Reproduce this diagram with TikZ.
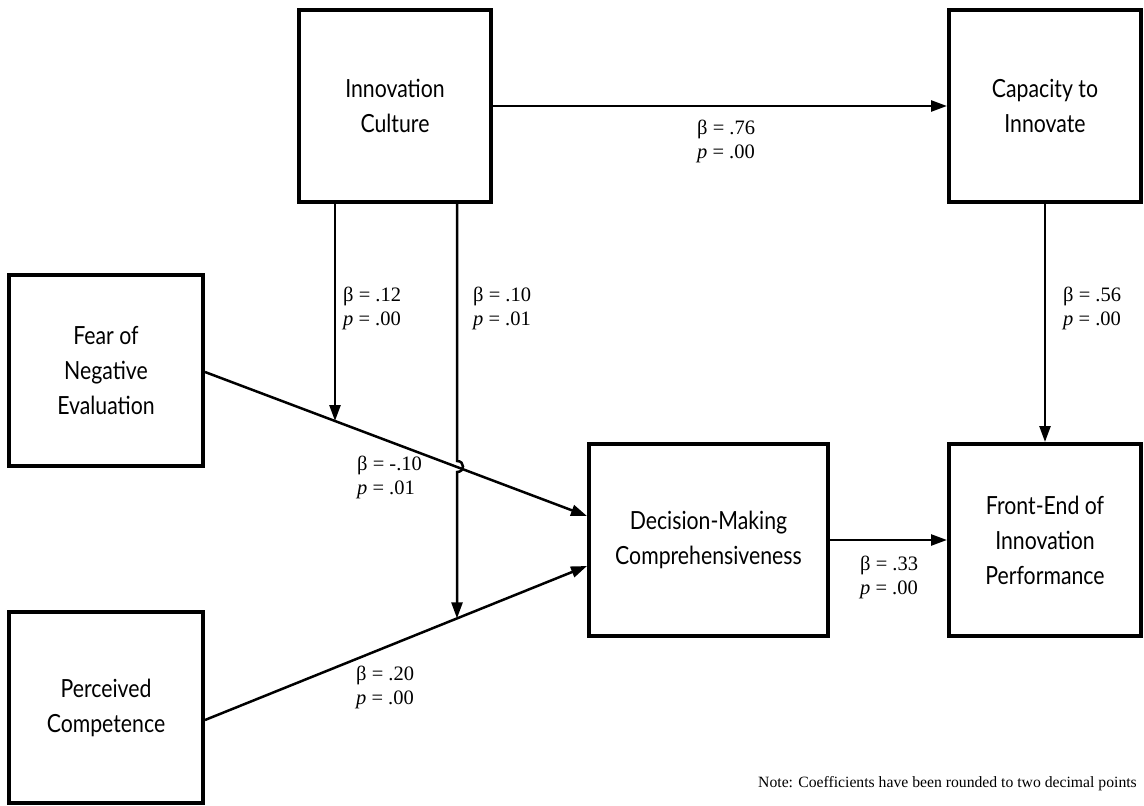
\documentclass[tikz,border=0pt]{standalone}
\usepackage{fontspec}
\usetikzlibrary{arrows.meta,calc}
\newfontfamily\boxfont[FakeStretch=0.85]{Lato}
\newfontfamily\labfont{Liberation Serif}
\begin{document}
\begin{tikzpicture}[x=1pt,y=-1pt,
  box/.style={draw,line width=4pt,minimum width=192pt,minimum height=192pt,align=center,
    font=\boxfont\fontsize{25}{35}\selectfont,inner sep=0pt},
  conn/.style={line width=2.5pt,-{Triangle[length=16pt,width=11pt]}},
  lab/.style={align=left,anchor=north west,font=\labfont\fontsize{20.5}{23.5}\selectfont,inner sep=0pt}]
\useasboundingbox (0,0) rectangle (1144,806);
% boxes
\node[box] (ic) at (395,106) {Innovation\\Culture};
\node[box] (ci) at (1045,106) {Capacity to\\Innovate};
\node[box,minimum width=194pt,minimum height=191pt] (fear) at (106,370.5) {Fear of\\Negative\\Evaluation};
\node[box,minimum width=194pt,minimum height=191pt] (pc) at (106,707.5) {Perceived\\Competence};
\node[box,minimum width=239pt] (dmc) at (708.5,540) {Decision-Making\\Comprehensiveness};
\node[box] (fe) at (1045,540) {Front-End of\\Innovation\\Performance};
% endpoint coordinates
\coordinate (fs) at (fear.east |- 0,372);
\coordinate (fe1) at (dmc.west |- 0,516);
\coordinate (ps) at (pc.east |- 0,720);
\coordinate (pe1) at (dmc.west |- 0,566);
\coordinate (m1) at ($(fs)!0.3403!(fe1)$);
\coordinate (m2) at ($(ps)!0.6597!(pe1)$);
% connectors
\draw[conn] (ic.east) -- (ci.west);
\draw[conn] (ci.south) -- (fe.north);
\draw[conn] (dmc.east) -- (fe.west);
\draw[conn] (fs) -- (fe1);
\draw[conn] (ps) -- (pe1);
\draw[conn] (ic.south -| m1) -- (m1);
\draw[conn] (ic.south -| m2) -- (457,461) .. controls (465,461) and (465,472) .. (457,472) -- (m2);
% labels
\node[lab] (l1) at (697,120) {β = .76\\\textit{p} = .00};
\node[lab] (l2) at (343,287) {β = .12\\\textit{p} = .00};
\node[lab] (l3) at (473,287) {β = .10\\\textit{p} = .01};
\node[lab] (l4) at (1063,287) {β = .56\\\textit{p} = .00};
\node[lab] (l5) at (357,456) {β = -.10\\\textit{p} = .01};
\node[lab] (l6) at (356,666) {β = .20\\\textit{p} = .00};
\node[lab] (l7) at (860,556) {β = .33\\\textit{p} = .00};
\node[anchor=base east,inner sep=0pt,font=\labfont\fontsize{15.7}{17}\selectfont] (note) at (1137,787) {Note: Coefficients have been rounded to two decimal points};
\end{tikzpicture}
\end{document}
